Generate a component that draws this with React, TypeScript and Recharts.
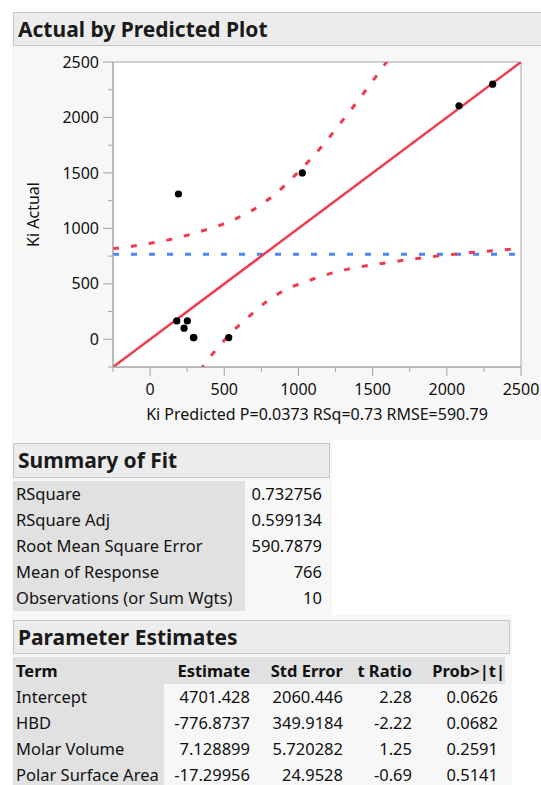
import React from 'react';
import {
  ComposedChart, Line, Scatter, XAxis, YAxis, ReferenceArea, ReferenceLine, Label,
} from 'recharts';

// observations: predicted (x) vs actual (y)
const predicted = [180, 251, 229, 292, 295, 530, 191, 1026, 2082, 2309];
const actual = [165, 165, 100, 15, 15, 15, 1310, 1500, 2105, 2300];

// fit line (actual = predicted)
const fitX = [-250, 2500];
const fitY = [-250, 2500];

const meanResponse = 766;

// confidence curves
const upperX = [-250, -113, 11, 135, 256, 371, 483, 593, 708, 820, 898, 989, 1078, 1157, 1235, 1314, 1393, 1467, 1543, 1600];
const upperY = [818, 840, 868, 899, 940, 985, 1034, 1097, 1178, 1285, 1375, 1495, 1619, 1738, 1866, 2002, 2136, 2268, 2407, 2510];
const lowerX = [340, 359, 438, 517, 606, 696, 786, 870, 960, 1060, 1160, 1260, 1380, 1505, 1620, 1740, 1865, 1990, 2110, 2235, 2360, 2500];
const lowerY = [-280, -240, -105, 15, 135, 240, 340, 415, 475, 525, 570, 610, 645, 672, 695, 718, 740, 758, 774, 790, 804, 820];

const xTicks = [-250, 0, 250, 500, 750, 1000, 1250, 1500, 1750, 2000, 2250, 2500];
const yTicks = [-250, 0, 250, 500, 750, 1000, 1250, 1500, 1750, 2000, 2250, 2500];

const fitLabels = ['RSquare', 'RSquare Adj', 'Root Mean Square Error', 'Mean of Response', 'Observations (or Sum Wgts)'];
const fitValues = ['0.732756', '0.599134', '590.7879', '766', '10'];

const paramHeaders = ['Term', 'Estimate', 'Std Error', 't Ratio', 'Prob>|t|'];
const terms = ['Intercept', 'HBD', 'Molar Volume', 'Polar Surface Area'];
const estimates = ['4701.428', '-776.8737', '7.128899', '-17.29956'];
const stdErrors = ['2060.446', '349.9184', '5.720282', '24.9528'];
const tRatios = ['2.28', '-2.22', '1.25', '-0.69'];
const probs = ['0.0626', '0.0682', '0.2591', '0.5141'];

const FONT = '"Noto Sans", sans-serif';
const AXIS = '#a4a4a4';
const RED = '#ef3b50';
const BLUE = '#4d86f2';
const TEXT = '#111';
const TABLE_FS = 16.5;

const pts = predicted.map((x, i) => ({ x, y: actual[i] }));
const fit = fitX.map((x, i) => ({ x, y: fitY[i] }));
const upper = upperX.map((x, i) => ({ x, y: upperY[i] }));
const lower = lowerX.map((x, i) => ({ x, y: lowerY[i] }));

const isMajor = (v: number) => v >= 0 && v % 500 === 0;

const XTick = (p: any) => {
  const v = p.payload.value;
  const ay = p.y - 16;
  return (
    <g>
      <line x1={p.x} x2={p.x} y1={ay} y2={ay + (isMajor(v) ? 9 : 5)} stroke={AXIS} />
      {isMajor(v) && (
        <text x={p.x} y={ay + 16} dy="0.72em" textAnchor="middle" fontSize={16} fontFamily={FONT} fill={TEXT}>{v}</text>
      )}
    </g>
  );
};

const YTick = (p: any) => {
  const v = p.payload.value;
  const ax = p.x + 14;
  return (
    <g>
      <line x1={ax - (isMajor(v) ? 10 : 5)} x2={ax} y1={p.y} y2={p.y} stroke={AXIS} />
      {isMajor(v) && (
        <text x={ax - 14} y={p.y} dy="0.35em" textAnchor="end" fontSize={16} fontFamily={FONT} fill={TEXT}>{v}</text>
      )}
    </g>
  );
};

const Dot = (p: any) => <circle cx={p.cx} cy={p.cy} r={3.6} fill="#000" />;

const boxStyle = (top: number, width: number, height: number): React.CSSProperties => ({
  position: 'absolute', left: 13, top, width, height, boxSizing: 'border-box',
  background: '#ececec', border: '1px solid #c6c6c6', fontWeight: 700, fontSize: 21,
  lineHeight: `${height - 2}px`, paddingLeft: 4, color: '#1a1a1a', whiteSpace: 'nowrap',
});

const paramRights = [164, 250, 343, 412, 505];

export default function App() {
  return (
    <div style={{ position: 'relative', width: 541, height: 785, background: '#fff', fontFamily: FONT, color: TEXT, overflow: 'hidden' }}>
      <style>{'body{margin:0}'}</style>
      <div style={{ position: 'absolute', left: 12, top: 12, width: 529, height: 428, background: '#f7f7f7' }} />
      <div style={{ position: 'absolute', left: 12, top: 440, width: 320, height: 175, background: '#f7f7f7' }} />
      <div style={{ position: 'absolute', left: 12, top: 615, width: 500, height: 170, background: '#f7f7f7' }} />

      <div style={boxStyle(12, 540, 34)}>Actual by Predicted Plot</div>

      <div style={{ position: 'absolute', left: 12, top: 46 }}>
        <ComposedChart width={529} height={390} margin={{ top: 16, right: 20, bottom: 0, left: 0 }}>
          <XAxis
            dataKey="x" type="number" domain={[-250, 2500]} ticks={xTicks} allowDataOverflow
            height={69} tickSize={10} tickMargin={6} tickLine={false} axisLine={{ stroke: AXIS }} tick={XTick}
          >
            <Label value="Ki Predicted P=0.0373 RSq=0.73 RMSE=590.79" position="insideBottom" offset={16}
              style={{ fontSize: 16, fontFamily: FONT, fill: TEXT }} />
          </XAxis>
          <YAxis
            dataKey="y" type="number" domain={[-250, 2500]} ticks={yTicks} allowDataOverflow
            width={101} tickSize={10} tickMargin={4} tickLine={false} axisLine={{ stroke: AXIS }} tick={YTick}
          >
            <Label value="Ki Actual" angle={-90} position="insideLeft" offset={21}
              style={{ fontSize: 16, fontFamily: FONT, fill: TEXT, textAnchor: 'middle' }} />
          </YAxis>
          <ReferenceArea x1={-250} x2={2500} y1={-250} y2={2500} fill="#fff" fillOpacity={1} stroke={AXIS} strokeWidth={1} />
          <ReferenceLine y={meanResponse} stroke={BLUE} strokeWidth={3} strokeDasharray="6 12" />
          <Line data={upper} dataKey="y" type="monotone" stroke={RED} strokeWidth={3} strokeDasharray="6 12" dot={false} isAnimationActive={false} />
          <Line data={lower} dataKey="y" type="monotone" stroke={RED} strokeWidth={3} strokeDasharray="6 12" dot={false} isAnimationActive={false} />
          <Line data={fit} dataKey="y" type="linear" stroke={RED} strokeWidth={2.5} dot={false} isAnimationActive={false} />
          <Scatter data={pts} dataKey="y" shape={Dot} isAnimationActive={false} />
        </ComposedChart>
      </div>

      <div style={boxStyle(443, 317, 35)}>Summary of Fit</div>
      {fitLabels.map((l, i) => (
        <div key={l} style={{ position: 'absolute', top: 481 + i * 26, left: 13, height: 26, lineHeight: '26px', fontSize: TABLE_FS }}>
          <div style={{ position: 'absolute', left: 0, width: 232, height: 26, background: '#e1e1e1', paddingLeft: 3, boxSizing: 'border-box', whiteSpace: 'nowrap' }}>{l}</div>
          <div style={{ position: 'absolute', left: 232, width: 77, height: 26, textAlign: 'right', whiteSpace: 'nowrap' }}>{fitValues[i]}</div>
        </div>
      ))}

      <div style={boxStyle(620, 497, 34)}>Parameter Estimates</div>
      <div style={{ position: 'absolute', top: 657, left: 13, width: 492, height: 27, background: '#e1e1e1' }} />
      {paramHeaders.map((h, c) => {
        const left = c === 0 ? 13 : paramRights[c - 1];
        const right = paramRights[c];
        return (
          <div key={h} style={{
            position: 'absolute', top: 657, left, width: right - left, height: 27, lineHeight: '27px',
            fontSize: TABLE_FS, fontWeight: 700, textAlign: c === 0 ? 'left' : 'right', paddingLeft: c === 0 ? 3 : 0,
            boxSizing: 'border-box', whiteSpace: 'nowrap',
          }}>{h}</div>
        );
      })}
      {terms.map((t, r) => {
        const cells = [t, estimates[r], stdErrors[r], tRatios[r], probs[r]];
        return cells.map((v, c) => {
          const left = c === 0 ? 13 : paramRights[c - 1];
          const right = paramRights[c];
          return (
            <div key={`${r}-${c}`} style={{
              position: 'absolute', top: 684 + r * 26, left, width: right - left, height: 26, lineHeight: '26px',
              fontSize: TABLE_FS, textAlign: c === 0 ? 'left' : 'right', paddingLeft: c === 0 ? 3 : 0,
              paddingRight: c === 4 ? 7 : 0, background: c === 0 ? '#e1e1e1' : 'transparent',
              boxSizing: 'border-box', whiteSpace: 'nowrap',
            }}>{v}</div>
          );
        });
      })}
    </div>
  );
}
